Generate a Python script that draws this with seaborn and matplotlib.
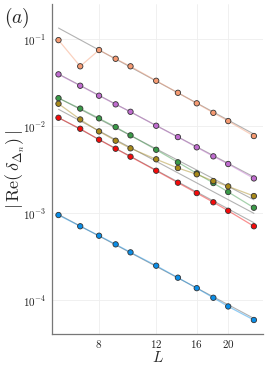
import numpy as np
import pandas as pd
import matplotlib
matplotlib.use("Agg")
import matplotlib.pyplot as plt
import seaborn as sns

# ---- data -----------------------------------------------------------------
L = [6, 7, 8, 9, 10, 12, 14, 16, 18, 20, 24]

orange = [0.098, 0.049, 0.0754, 0.0598, 0.049, 0.0334, 0.0243, 0.0184, 0.0143, 0.0115, 0.00774]
purple = [0.0396, 0.0293, 0.0225, 0.0179, 0.0147, 0.01016, 0.00753, 0.00574, 0.00452, 0.00369, 0.00252]
green = [0.0211, 0.0160, 0.01236, 0.00982, 0.00788, 0.00538, 0.00386, 0.00288, 0.00223, 0.00176, 0.00116]
olive = [0.0182, 0.0120, 0.00875, 0.00684, 0.00559, 0.00418, 0.00332, 0.00281, 0.00235, 0.00204, 0.00158]
red = [0.01256, 0.00938, 0.00702, 0.00553, 0.00448, 0.00309, 0.00225, 0.00171, 0.00134, 0.00107, 0.00071]
blue = [9.56e-4, 7.1e-4, 5.53e-4, 4.4e-4, 3.56e-4, 2.5e-4, 1.82e-4, 1.38e-4, 1.07e-4, 8.5e-5, 5.94e-5]

# gray power-law fits: value at L=6 and at L=24
fit_L = [6, 24]
fit_orange = [0.135, 0.00815]
fit_purple = [0.0400, 0.00262]
fit_green = [0.0212, 0.00143]
fit_olive = [0.0157, 0.00100]
fit_red = [0.0126, 0.00078]
fit_blue = [9.7e-4, 6.2e-5]

names = ["orange", "purple", "green", "olive", "red", "blue"]
values = [orange, purple, green, olive, red, blue]
fits = [fit_orange, fit_purple, fit_green, fit_olive, fit_red, fit_blue]
palette = {"orange": "#F59A72", "purple": "#C06CCF", "green": "#3A9A48",
           "olive": "#A8891A", "red": "#F50A0A", "blue": "#0A8EE8"}

df = pd.DataFrame({"L": L * len(names),
                   "val": sum(values, []),
                   "series": np.repeat(names, len(L))})
fdf = pd.DataFrame({"L": fit_L * len(names),
                    "val": sum(fits, []),
                    "series": np.repeat(names, len(fit_L))})

sns.set_theme(style="white")
plt.rcParams["mathtext.fontset"] = "cm"
plt.rcParams["font.family"] = ["DejaVu Serif"]

fig = plt.figure(figsize=(2.66, 3.67), dpi=100)
ax = fig.add_axes([52 / 266, 33 / 367, 211 / 266, 330 / 367])

sns.lineplot(data=fdf, x="L", y="val", units="series", estimator=None,
             color="gray", alpha=0.6, lw=0.8, ax=ax, legend=False)
sns.lineplot(data=df, x="L", y="val", hue="series", palette=palette,
             alpha=0.45, lw=0.9, ax=ax, legend=False)
sns.scatterplot(data=df, x="L", y="val", hue="series", palette=palette,
                s=15, edgecolor="#333333", linewidth=0.6, ax=ax, legend=False,
                zorder=5)

ax.set_xscale("log")
ax.set_yscale("log")
ax.set_xlim(5.73, 25.6)
ax.set_ylim(4.1e-5, 0.255)

ax.set_xticks([8, 12, 16, 20])
ax.set_xticklabels(["$8$", "$12$", "$16$", "$20$"])
ax.xaxis.set_minor_locator(matplotlib.ticker.NullLocator())
ax.set_yticks([1e-4, 1e-3, 1e-2, 1e-1])
ax.set_yticklabels(["$10^{-4}$", "$10^{-3}$", "$10^{-2}$", "$10^{-1}$"])
ax.yaxis.set_minor_locator(matplotlib.ticker.NullLocator())
ax.tick_params(axis="both", labelsize=8, length=2, width=0.6, color="#777777",
               direction="in", pad=4, labelcolor="#222222")
ax.tick_params(axis="x", pad=3)

ax.grid(True, color="#eeeeee", lw=0.6)
for s in ["top", "right"]:
    ax.spines[s].set_visible(False)
for s in ["left", "bottom"]:
    ax.spines[s].set_color("#777777")
    ax.spines[s].set_linewidth(0.9)

ax.set_xlabel("$L$", fontsize=11)
ax.xaxis.set_label_coords(0.5, -0.05)
ax.set_ylabel(r"$|\,\mathrm{Re}(\,\delta_{\Delta_n})\,|$", fontsize=13)
ax.yaxis.set_label_coords(-0.12, 0.5)
fig.text(0.015, 0.985, "$(a)$", fontsize=14, va="top", ha="left")

fig.savefig("out.png", dpi=100)
